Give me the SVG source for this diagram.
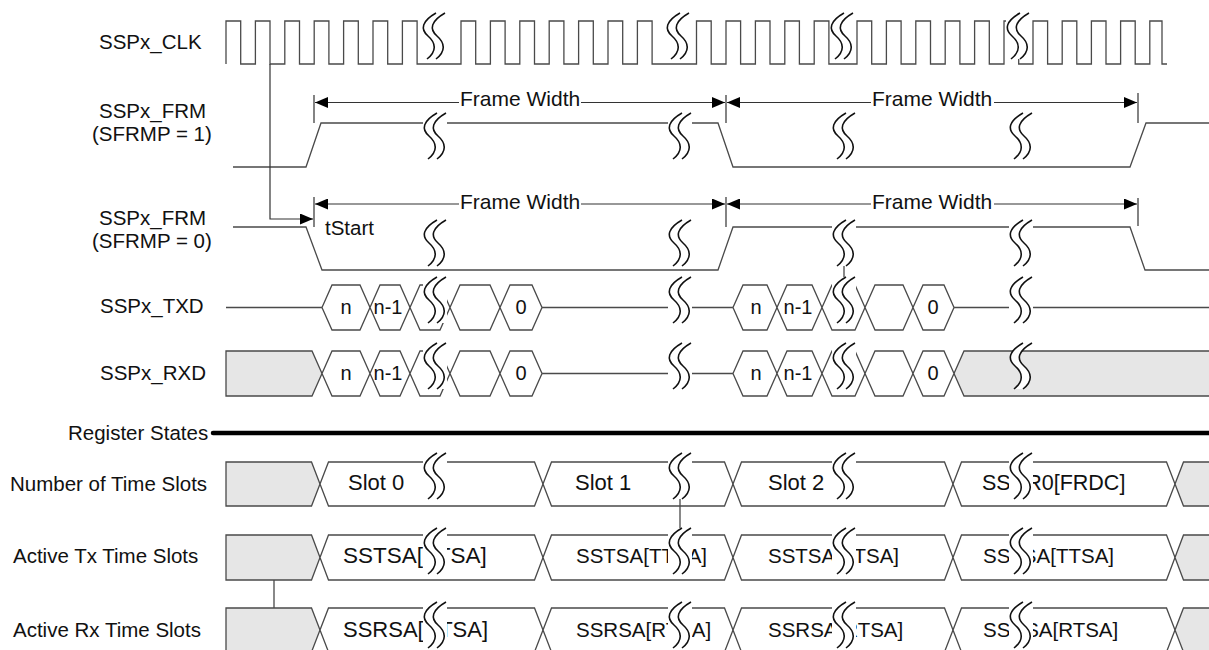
<svg xmlns="http://www.w3.org/2000/svg" width="1209" height="650" viewBox="0 0 1209 650">
<style>
.sig{fill:none;stroke:#4a4a4a;stroke-width:1.3}
.box{fill:#fff;stroke:#4a4a4a;stroke-width:1.3}
.gray{fill:#e6e6e6;stroke:#4a4a4a;stroke-width:1.3}
.dim{fill:none;stroke:#333;stroke-width:1.2}
.bf{fill:#fff;stroke:none}
.bl{fill:none;stroke:#111;stroke-width:1.6}
text{font-family:"Liberation Sans",Arial,sans-serif;fill:#111}
.lbl{font-size:20.5px}
.in{font-size:20px;text-anchor:middle}
.sl{font-size:22px}
.rg{font-size:20.5px}
.fw{font-size:21px}
</style>
<defs>
<marker id="ah" viewBox="0 0 13 11" refX="13" refY="5.5" markerWidth="13" markerHeight="11" markerUnits="userSpaceOnUse" orient="auto"><path d="M0,0 L13,5.5 L0,11 Z" fill="#000"/></marker>
<path id="brkc" class="bl" d="M16,0 C2,8 0,16 8,23 C16,30 17,38 7,46 M25,0 C11,8 9,16 17,23 C25,30 26,38 16,46"/>
<g id="brk">
<path class="bf" d="M2,0 H26 V46 H2 Z"/>
<use href="#brkc"/>
</g>
<g id="brkb">
<path class="bf" d="M16,0 C2,8 0,16 8,23 C16,30 17,38 7,46 L16,46 C26,38 25,30 17,23 C9,16 11,8 25,0 Z"/>
<use href="#brkc"/>
</g>
</defs>
<rect width="1209" height="650" fill="#fff"/>

<g id="labels">
<text class="lbl" x="99" y="118">SSPx_FRM</text>
<text class="lbl" x="92" y="141">(SFRMP = 1)</text>
<text class="lbl" x="99" y="225">SSPx_FRM</text>
<text class="lbl" x="92" y="248">(SFRMP = 0)</text>
<text class="lbl" x="99" y="49">SSPx_CLK</text>
<text class="lbl" x="100" y="313">SSPx_TXD</text>
<text class="lbl" x="100" y="380">SSPx_RXD</text>
<text class="lbl" x="68" y="440">Register States</text>
<text class="lbl" x="10" y="491">Number of Time Slots</text>
<text class="lbl" x="13" y="563">Active Tx Time Slots</text>
<text class="lbl" x="13" y="637">Active Rx Time Slots</text>
</g>

<g id="clk">
<path class="sig" d="M226,64 V21 H240.7 V64 H255.4 V21 H270 V64 H284.8 V21 H299.5 V64 H314.2 V21 H328.9 V64 H343.6 V21 H358.3 V64 H373 V21 H387.7 V64 H402.4 V21 H417.1 V64 H461 V21 H475.7 V64 H490.4 V21 H505.1 V64 H519.8 V21 H534.5 V64 H549.2 V21 H563.9 V64 H578.6 V21 H593.3 V64 H608 V21 H622.7 V64 H637.4 V21 H652.1 V64 H696.5 V21 H711.2 V64 H726 V21 H740.6 V64 H755.4 V21 H770 V64 H784.8 V21 H799.4 V64 H814.2 V21 H828.9 V64 H857 V21 H871.7 V64 H886.4 V21 H901.1 V64 H915.8 V21 H930.5 V64 H945.2 V21 H959.9 V64 H974.6 V21 H989.3 V64 H1004 V21 H1018.7 V64 H1033 V21 H1047.6 V64 H1062.2 V21 H1076.8 V64 H1091.4 V21 H1106 V64 H1120.6 V21 H1135.2 V64 H1149.8 V21 H1162 V64 H1167"/>
</g>

<g id="frm1">
<path class="sig" d="M233,167 H306 L321,123 H718 L733,167 H1130 L1146,123 H1212"/>
</g>

<g id="frm0">
<path class="sig" d="M233,227 H306 L322,270 H718 L733,227 H1130 L1145,270 H1212"/>
<text class="lbl" x="325" y="235">tStart</text>
</g>

<g id="txd">
<path class="sig" d="M226,307.5 H322 M542,307.5 H733 M954,307.5 H1212"/>
<polygon class="box" points="322,307.5 332,285 360,285 370,307.5 360,330 332,330"/>
<polygon class="box" points="370,307.5 380,285 400,285 410,307.5 400,330 380,330"/>
<polygon class="box" points="410,307.5 420,285 440,285 450,307.5 440,330 420,330"/>
<polygon class="box" points="450,307.5 460,285 490,285 500,307.5 490,330 460,330"/>
<polygon class="box" points="500,307.5 510,285 532,285 542,307.5 532,330 510,330"/>
<polygon class="box" points="733,307.5 743,285 767,285 777,307.5 767,330 743,330"/>
<polygon class="box" points="777,307.5 787,285 812,285 822,307.5 812,330 787,330"/>
<polygon class="box" points="822,307.5 832,285 855,285 865,307.5 855,330 832,330"/>
<polygon class="box" points="865,307.5 875,285 903,285 913,307.5 903,330 875,330"/>
<polygon class="box" points="913,307.5 923,285 944,285 954,307.5 944,330 923,330"/>
<text class="in" x="346" y="314">n</text>
<text class="in" x="388" y="314">n-1</text>
<text class="in" x="521" y="314">0</text>
<text class="in" x="756" y="314">n</text>
<text class="in" x="798" y="314">n-1</text>
<text class="in" x="933" y="314">0</text>
</g>

<g id="rxd">
<path class="sig" d="M542,373.5 H733"/>
<polygon class="gray" points="226,351 312,351 322,373.5 312,396 226,396"/>
<polygon class="gray" points="954,373.5 964,351 1212,351 1212,396 964,396"/>
<polygon class="box" points="322,373.5 332,351 360,351 370,373.5 360,396 332,396"/>
<polygon class="box" points="370,373.5 380,351 400,351 410,373.5 400,396 380,396"/>
<polygon class="box" points="410,373.5 420,351 440,351 450,373.5 440,396 420,396"/>
<polygon class="box" points="450,373.5 460,351 490,351 500,373.5 490,396 460,396"/>
<polygon class="box" points="500,373.5 510,351 532,351 542,373.5 532,396 510,396"/>
<polygon class="box" points="733,373.5 743,351 767,351 777,373.5 767,396 743,396"/>
<polygon class="box" points="777,373.5 787,351 812,351 822,373.5 812,396 787,396"/>
<polygon class="box" points="822,373.5 832,351 855,351 865,373.5 855,396 832,396"/>
<polygon class="box" points="865,373.5 875,351 903,351 913,373.5 903,396 875,396"/>
<polygon class="box" points="913,373.5 923,351 944,351 954,373.5 944,396 923,396"/>
<text class="in" x="346" y="380">n</text>
<text class="in" x="388" y="380">n-1</text>
<text class="in" x="521" y="380">0</text>
<text class="in" x="756" y="380">n</text>
<text class="in" x="798" y="380">n-1</text>
<text class="in" x="933" y="380">0</text>
</g>

<g id="register-states">
<path d="M213,433 H1212" fill="none" stroke="#000" stroke-width="4.5" stroke-linecap="round"/>
</g>

<g id="slots">
<polygon class="gray" points="226,462 311.5,462 320,484 311.5,506 226,506"/>
<polygon class="box" points="320,484 328.5,462 534.5,462 543,484 534.5,506 328.5,506"/>
<polygon class="box" points="543,484 551.5,462 724.5,462 733,484 724.5,506 551.5,506"/>
<polygon class="box" points="733,484 741.5,462 944.5,462 953,484 944.5,506 741.5,506"/>
<polygon class="box" points="953,484 961.5,462 1166.5,462 1175,484 1166.5,506 961.5,506"/>
<polygon class="gray" points="1175,484 1183.5,462 1212,462 1212,506 1183.5,506"/>
<text class="sl" x="348" y="490">Slot 0</text>
<text class="sl" x="575" y="490">Slot 1</text>
<text class="sl" x="768" y="490">Slot 2</text>
<text class="rg" x="982" y="490" style="font-size:21.5px">SSCR0[FRDC]</text>
</g>

<g id="tx-slots">
<polygon class="gray" points="226,535 311.5,535 320,557.5 311.5,580 226,580"/>
<polygon class="box" points="320,557.5 328.5,535 534.5,535 543,557.5 534.5,580 328.5,580"/>
<polygon class="box" points="543,557.5 551.5,535 724.5,535 733,557.5 724.5,580 551.5,580"/>
<polygon class="box" points="733,557.5 741.5,535 944.5,535 953,557.5 944.5,580 741.5,580"/>
<polygon class="box" points="953,557.5 961.5,535 1166.5,535 1175,557.5 1166.5,580 961.5,580"/>
<polygon class="gray" points="1175,557.5 1183.5,535 1212,535 1212,580 1183.5,580"/>
<text class="sl" x="343" y="563" style="font-size:22.5px">SSTSA[TTSA]</text>
<text class="rg" x="576" y="563">SSTSA[TTSA]</text>
<text class="rg" x="768" y="563">SSTSA[TTSA]</text>
<text class="rg" x="983" y="563">SSTSA[TTSA]</text>
</g>

<g id="rx-slots">
<polygon class="gray" points="226,608 311.5,608 320,630 311.5,652 226,652"/>
<polygon class="box" points="320,630 328.5,608 534.5,608 543,630 534.5,652 328.5,652"/>
<polygon class="box" points="543,630 551.5,608 724.5,608 733,630 724.5,652 551.5,652"/>
<polygon class="box" points="733,630 741.5,608 944.5,608 953,630 944.5,652 741.5,652"/>
<polygon class="box" points="953,630 961.5,608 1166.5,608 1175,630 1166.5,652 961.5,652"/>
<polygon class="gray" points="1175,630 1183.5,608 1212,608 1212,652 1183.5,652"/>
<text class="sl" x="343" y="637">SSRSA[RTSA]</text>
<text class="rg" x="576" y="637">SSRSA[RTSA]</text>
<text class="rg" x="768" y="637">SSRSA[RTSA]</text>
<text class="rg" x="983" y="637">SSRSA[RTSA]</text>
</g>

<g id="breaks">
<use href="#brk" x="420" y="13"/><use href="#brk" x="664" y="13"/><use href="#brk" x="828" y="13"/><use href="#brk" x="1004" y="13"/>
<use href="#brk" x="421" y="113"/><use href="#brk" x="666" y="113"/><use href="#brk" x="830" y="113"/><use href="#brk" x="1007" y="113"/>
<use href="#brk" x="421" y="220"/><use href="#brk" x="666" y="220"/><use href="#brk" x="830" y="220"/><use href="#brk" x="1007" y="220"/>
<use href="#brk" x="421" y="277"/><use href="#brk" x="666" y="277"/><use href="#brk" x="830" y="277"/><use href="#brk" x="1007" y="277"/>
<use href="#brk" x="421" y="343"/><use href="#brk" x="666" y="343"/><use href="#brk" x="830" y="343"/><use href="#brkb" x="1007" y="343"/>
<use href="#brk" x="421" y="453"/><use href="#brk" x="666" y="453"/><use href="#brk" x="830" y="453"/><use href="#brk" x="1007" y="453"/>
<use href="#brk" x="421" y="528"/><use href="#brk" x="666" y="528"/><use href="#brk" x="830" y="528"/><use href="#brk" x="1007" y="528"/>
<use href="#brk" x="421" y="602"/><use href="#brk" x="666" y="602"/><use href="#brk" x="830" y="602"/><use href="#brk" x="1007" y="602"/>
</g>

<g id="connectors">
<path class="dim" d="M314,95 V123 M726,95 V123 M1138,93 V123 M314,197 V227 M726,197 V227 M1138,198 V226"/>
<path class="dim" d="M459,102.5 H315" marker-end="url(#ah)"/>
<path class="dim" d="M581,102.5 H725" marker-end="url(#ah)"/>
<path class="dim" d="M871,102.5 H727" marker-end="url(#ah)"/>
<path class="dim" d="M994,102.5 H1137" marker-end="url(#ah)"/>
<path class="dim" d="M459,204 H315" marker-end="url(#ah)"/>
<path class="dim" d="M581,204 H725" marker-end="url(#ah)"/>
<path class="dim" d="M871,204 H727" marker-end="url(#ah)"/>
<path class="dim" d="M994,204 H1137" marker-end="url(#ah)"/>
<path class="dim" d="M270,64 V219 H313" marker-end="url(#ah)"/>
<path class="sig" d="M844,266 V277 M680,499 V528 M274,580 V608"/>
<text class="fw" x="460" y="106">Frame Width</text>
<text class="fw" x="872" y="106">Frame Width</text>
<text class="fw" x="460" y="209">Frame Width</text>
<text class="fw" x="872" y="209">Frame Width</text>
</g>
</svg>
